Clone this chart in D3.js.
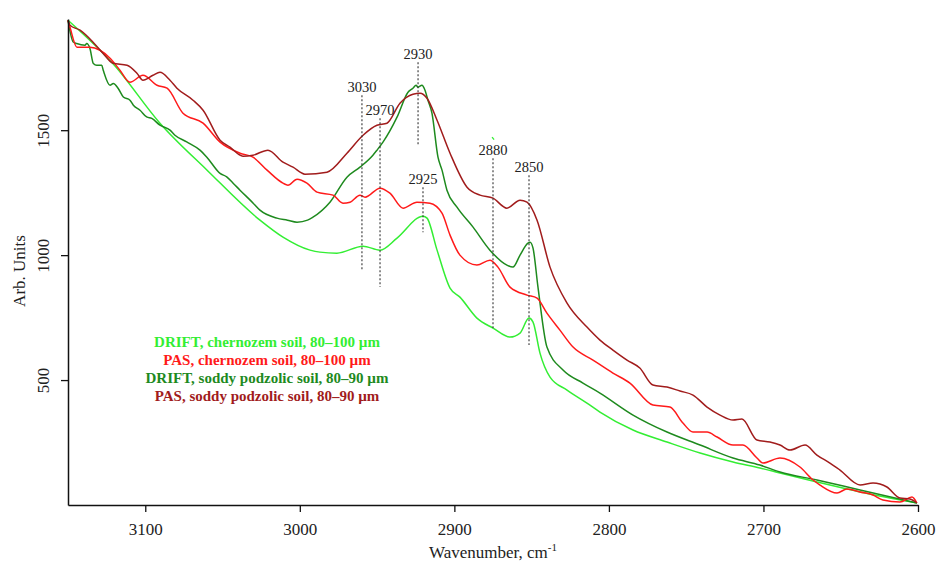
<!DOCTYPE html>
<html>
<head>
<meta charset="utf-8">
<script src="https://cdn.jsdelivr.net/npm/d3@7"></script>
<style>
  html, body { margin: 0; padding: 0; background: #fff; }
  svg { display: block; }
  text { font-family: "Liberation Serif", "Times New Roman", serif; fill: #222; }
</style>
</head>
<body>
<svg id="chart" width="937" height="561"></svg>
<script>
// ---- data (wavenumber, cm-1 ; arbitrary units) ----
const driftChernozem = [
  [3150,1940],[3120,1760],[3090.5,1528],[3060,1340],[3025.8,1140],[3010.9,1072],[2993.4,1020],[2987,1012],
  [2976,1008],[2959.1,1036],[2948.1,1020],[2937.1,1068],[2920.3,1156],[2917.7,1148],[2911.2,1020],
  [2902.8,868],[2896.4,832],[2885.4,748],[2875,708],[2864,672],[2857.5,688],[2851.7,748],[2849.1,732],
  [2844.6,608],[2838.1,512],[2827.1,460],[2814.2,408],[2805.8,372],[2784.4,300],[2762.4,252],
  [2741,208],[2719.7,172],[2702.3,148],[2689.3,128],[2665.4,92],[2637.5,52],[2600.7,8]
];
const pasChernozem = [
  [3150,1940],[3148.7,1912],[3144.2,1832],[3135.8,1832],[3129.3,1820],[3122.8,1788],[3116.4,1740],
  [3109.9,1692],[3101.5,1720],[3092.4,1680],[3085.9,1668],[3075.6,1568],[3062.6,1528],[3051.6,1452],
  [3038.7,1408],[3030.3,1392],[3021.2,1340],[3010.9,1288],[3007.7,1280],[3001.8,1304],[2995.4,1288],
  [2988.9,1252],[2978.5,1240],[2972.1,1208],[2967.5,1212],[2961.1,1240],[2957.8,1232],[2948.1,1268],
  [2941.7,1248],[2933.2,1188],[2924.2,1212],[2915.8,1208],[2908,1168],[2902.8,1080],[2896.4,1000],
  [2885.4,960],[2877,980],[2871.8,952],[2864,872],[2853,840],[2846.5,828],[2840.1,768],[2831.7,700],
  [2823.2,632],[2810.3,580],[2797.4,528],[2786.4,488],[2771.5,400],[2760.5,392],[2752.1,328],
  [2745.6,292],[2736.5,292],[2730,272],[2719.7,240],[2713.3,240],[2704.2,188],[2700.3,168],
  [2689.3,188],[2676.4,152],[2667.9,100],[2663.4,80],[2652.4,48],[2646,64],[2637.5,52],[2629.1,40],
  [2622.7,20],[2611.7,12],[2603.9,32],[2600.7,8]
];
const driftPodzolic = [
  [3150,1940],[3146.6,1853],[3144.4,1847],[3139,1840],[3137.9,1847],[3135.8,1827],[3133.6,1767],
  [3131.4,1760],[3128.2,1760],[3127.2,1740],[3122.8,1680],[3120.7,1687],[3117.5,1667],[3114.2,1633],
  [3109.9,1620],[3107.7,1600],[3103.4,1580],[3099.1,1553],[3095.8,1547],[3090.5,1520],[3084,1500],
  [3080.8,1480],[3073.2,1453],[3064.6,1420],[3060.3,1393],[3051.6,1327],[3047.3,1313],[3043,1287],
  [3038.7,1260],[3030,1207],[3025.8,1180],[3014.8,1148],[3008,1140],[3001.8,1132],[2995,1140],
  [2991.5,1152],[2980.5,1212],[2969.5,1312],[2961.1,1352],[2952.7,1400],[2950.1,1420],
  [2946.2,1452],[2937.1,1552],[2930,1652],[2926.8,1668],[2924.8,1680],[2923.5,1672],[2921,1680],
  [2919,1660],[2917.1,1620],[2914.5,1568],[2910.6,1392],[2908,1340],[2904.8,1260],[2898.3,1192],
  [2887.9,1112],[2877,1020],[2866,960],[2862.1,952],[2857.5,1000],[2852.4,1048],[2851,1052],
  [2849.1,1028],[2845.9,872],[2840.1,632],[2829.7,540],[2816.8,488],[2805.8,448],[2784.4,360],
  [2762.4,292],[2741,240],[2719.7,188],[2702.3,160],[2689.3,132],[2665.4,100],[2637.5,60],[2600.7,8]
];
const pasPodzolic = [
  [3150,1940],[3148.7,1920],[3142.2,1900],[3133.8,1852],[3127.4,1808],[3120.9,1768],[3111.8,1760],
  [3105.4,1728],[3101.5,1700],[3095,1720],[3090.5,1732],[3084,1700],[3079.5,1668],[3069.1,1620],
  [3062.6,1580],[3051.6,1460],[3045.2,1432],[3036.8,1396],[3030.3,1400],[3020.6,1420],[3010.9,1372],
  [3004.4,1352],[2996.7,1324],[2982.4,1332],[2969.5,1408],[2959.1,1480],[2950.1,1520],[2943.6,1528],
  [2935.2,1608],[2926.8,1644],[2922.2,1648],[2917.7,1628],[2911.2,1540],[2902.8,1408],[2891.8,1272],
  [2883.4,1240],[2875,1228],[2866,1188],[2857.5,1220],[2853,1212],[2846.5,1140],[2838.1,952],
  [2827.1,808],[2814.2,712],[2805.8,660],[2797.4,620],[2788.3,580],[2780,548],[2771.5,480],
  [2762.4,472],[2754,456],[2745.6,440],[2736.5,392],[2728.1,360],[2719.7,340],[2713.9,344],
  [2704.2,260],[2695.8,252],[2689.3,240],[2682.8,220],[2673.1,240],[2665.4,200],[2657,168],
  [2650.5,140],[2637.5,80],[2629.1,88],[2620.1,72],[2611.7,28],[2605.2,24],[2600.7,8]
];
const strayMark = [[2875.6,1472],[2874.3,1462]];

const seriesNames = [
  "DRIFT, chernozem soil, 80\u2013100 \u00b5m",
  "PAS, chernozem soil, 80\u2013100 \u00b5m",
  "DRIFT, soddy podzolic soil, 80\u201390 \u00b5m",
  "PAS, soddy podzolic soil, 80\u201390 \u00b5m"
];
const seriesColors = ["#33ee33", "#ff1a1a", "#1e8a1e", "#a11c1c"];

// peak annotations: label, wavenumber position, from value, to value
const peakLabels = ["3030", "2970", "2930", "2925", "2880", "2850"];
const peakPos    = [2959.8, 2948.1, 2923.5, 2920.3, 2875, 2851.7];
const peakTop    = [1640, 1548, 1772, 1272, 1388, 1320];
const peakBottom = [940, 872, 1440, 1092, 708, 640];

const xTicks = [3100, 3000, 2900, 2800, 2700, 2600];
const yTicks = [500, 1000, 1500];

// ---- drawing ----
const svg = d3.select("#chart");
const x = d3.scaleLinear().domain([3150, 2600]).range([68, 918]);
const y = d3.scaleLinear().domain([0, 1945]).range([505, 19]);

const line = d3.line().x(d => x(d[0])).y(d => y(d[1]));
const smooth = d3.line().x(d => x(d[0])).y(d => y(d[1])).curve(d3.curveMonotoneX);

const allSeries = [driftChernozem, pasChernozem, driftPodzolic, pasPodzolic];
const order = [0, 2, 1, 3];
order.forEach(i => {
  svg.append("path")
    .datum(allSeries[i])
    .attr("fill", "none")
    .attr("stroke", seriesColors[i])
    .attr("stroke-width", 1.5)
    .attr("stroke-linejoin", "round")
    .attr("d", smooth);
});
svg.append("path").datum(strayMark)
  .attr("fill", "none").attr("stroke", seriesColors[0]).attr("stroke-width", 1.3)
  .attr("d", line);

// annotations
peakLabels.forEach((lab, i) => {
  svg.append("line")
    .attr("x1", x(peakPos[i])).attr("x2", x(peakPos[i]))
    .attr("y1", y(peakTop[i])).attr("y2", y(peakBottom[i]))
    .attr("stroke", "#333").attr("stroke-width", 1.1)
    .attr("stroke-dasharray", "2,2");
  svg.append("text")
    .attr("x", x(peakPos[i])).attr("y", y(peakTop[i]) - 3)
    .attr("text-anchor", "middle")
    .attr("font-size", 14.5)
    .text(lab);
});

// axes
const xAxis = d3.axisBottom(x).tickValues(xTicks).tickSize(7).tickSizeOuter(0).tickFormat(d3.format("d"));
const gx = svg.append("g").attr("transform", "translate(0,505)").call(xAxis);
gx.select(".domain").attr("stroke", "#111").attr("stroke-width", 1.5);
gx.selectAll(".tick line").attr("stroke", "#111").attr("stroke-width", 1.3);
gx.selectAll(".tick text")
  .attr("font-family", "Liberation Serif, serif")
  .attr("font-size", 17).attr("fill", "#222")
  .attr("dy", null).attr("y", 30);

const yAxis = d3.axisLeft(y).tickValues(yTicks).tickSize(7).tickSizeOuter(0).tickFormat(d3.format("d"));
const gy = svg.append("g").attr("transform", "translate(68,0)").call(yAxis);
gy.select(".domain").attr("stroke", "#111").attr("stroke-width", 1.5);
gy.selectAll(".tick line").attr("stroke", "#111").attr("stroke-width", 1.3);
gy.selectAll(".tick text")
  .attr("font-family", "Liberation Serif, serif")
  .attr("font-size", 17).attr("fill", "#222")
  .attr("x", null).attr("dy", null)
  .attr("text-anchor", "middle")
  .attr("transform", "translate(-19,0) rotate(-90)");

// axis titles
svg.append("text")
  .attr("transform", "translate(25,271) rotate(-90)")
  .attr("text-anchor", "middle")
  .attr("font-size", 17)
  .text("Arb. Units");
const xt = svg.append("text")
  .attr("x", 493).attr("y", 558)
  .attr("text-anchor", "middle")
  .attr("font-size", 17);
xt.append("tspan").text("Wavenumber, cm");
xt.append("tspan").attr("dy", -7).attr("font-size", 11).text("-1");

// legend
seriesNames.forEach((name, i) => {
  svg.append("text")
    .attr("x", 267).attr("y", 347 + i * 18)
    .attr("text-anchor", "middle")
    .attr("font-size", 15)
    .attr("font-weight", "bold")
    .style("fill", seriesColors[i])
    .text(name);
});
</script>
</body>
</html>
